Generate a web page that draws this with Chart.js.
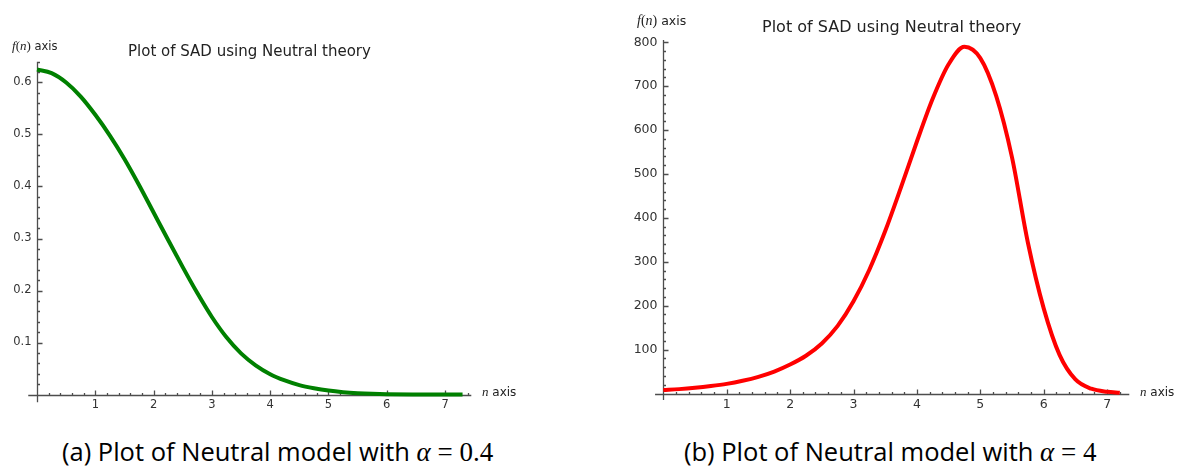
<!DOCTYPE html>
<html>
<head>
<meta charset="utf-8">
<script src="https://cdn.jsdelivr.net/npm/chart.js@4.4.0/dist/chart.umd.min.js"></script>
<style>
    body { margin: 0; width: 1178px; height: 466px; background: #fff; position: relative; overflow: hidden; font-family: "DejaVu Sans", sans-serif; }
    canvas { position: absolute; top: 0; }
    #chartA { left: 0; }
    #chartB { left: 600px; }
    .lbl { position: absolute; white-space: nowrap; color: #222; line-height: 1; }
    .s { font-family: "Liberation Serif", "DejaVu Serif", serif; }
    .i { font-style: italic; }
    .cap { position: absolute; white-space: nowrap; font-family: "Open Sans", sans-serif; font-size: 25.5px; color: #000; line-height: 1; }
    .cap .s { font-size: 27px; }
</style>
</head>
<body>
<canvas id="chartA" width="600" height="430"></canvas>
<canvas id="chartB" width="578" height="430"></canvas>

<div class="lbl" style="left:12px; top:39px; font-size:11.5px;"><span class="s" style="font-size:13px"><span class="i">f</span>(<span class="i">n</span>)</span> axis</div>
<div class="lbl" style="left:128px; top:44px; font-size:15px;">Plot of SAD using Neutral theory</div>
<div class="lbl" style="left:482px; top:385px; font-size:12px;"><span class="s i" style="font-size:13px">n</span> axis</div>

<div class="lbl" style="left:637px; top:14px; font-size:12.5px;"><span class="s" style="font-size:14px"><span class="i">f</span>(<span class="i">n</span>)</span> axis</div>
<div class="lbl" style="left:762px; top:19px; font-size:16px;">Plot of SAD using Neutral theory</div>
<div class="lbl" style="left:1140px; top:385px; font-size:12px;"><span class="s i" style="font-size:13px">n</span> axis</div>

<div class="cap" style="left:62px; top:439px;">(a) Plot of Neutral model with <span class="s"><span class="i">α</span> = 0.4</span></div>
<div class="cap" style="left:684px; top:439px;">(b) Plot of Neutral model with <span class="s"><span class="i">α</span> = 4</span></div>

<script>
// (a) alpha = 0.4
const nA = [0, 0.25, 0.5, 0.75, 1, 1.25, 1.5, 1.75, 2, 2.25, 2.5, 2.75, 3, 3.25, 3.5, 3.75, 4, 4.25, 4.5, 4.75, 5, 5.25, 5.5, 5.75, 6, 6.5, 7, 7.3];
const fA = [0.625, 0.618, 0.600, 0.573, 0.538, 0.498, 0.453, 0.403, 0.350, 0.297, 0.245, 0.195, 0.149, 0.110, 0.079, 0.056, 0.039, 0.027, 0.018, 0.012, 0.0075, 0.0045, 0.0026, 0.0014, 0.0007, 0.0002, 0.00005, 0];
const xTicksA = [1, 2, 3, 4, 5, 6, 7];
const yTicksA = [0.1, 0.2, 0.3, 0.4, 0.5, 0.6];

// (b) alpha = 4
const nB = [0, 0.25, 0.5, 0.75, 1, 1.25, 1.5, 1.75, 2, 2.25, 2.5, 2.75, 3, 3.25, 3.5, 3.75, 4, 4.25, 4.5, 4.75, 5, 5.25, 5.5, 5.75, 6, 6.25, 6.5, 6.75, 7, 7.2];
const fB = [8, 10, 13, 17, 22, 29, 38, 50, 66, 86, 114, 154, 210, 282, 370, 470, 574, 672, 750, 790, 764, 678, 538, 344, 194, 88, 32, 11, 4, 2];
const xTicksB = [1, 2, 3, 4, 5, 6, 7];
const yTicksB = [100, 200, 300, 400, 500, 600, 700, 800];

// sage style axes: lines crossing at the origin, ticks pointing inward
const sageAxes = {
    id: 'sageAxes',
    beforeDatasetsDraw(chart, args, opts) {
        const ctx = chart.ctx;
        const area = chart.chartArea;
        const x = chart.scales.x;
        const y = chart.scales.y;
        const x0 = Math.round(x.getPixelForValue(0)) + 0.5;
        const y0 = Math.round(y.getPixelForValue(0)) + 0.5;

        ctx.save();
        ctx.strokeStyle = opts.color;
        ctx.lineWidth = 1.3;
        ctx.beginPath();
        ctx.moveTo(area.left, y0);
        ctx.lineTo(area.right, y0);
        ctx.moveTo(x0, area.bottom);
        ctx.lineTo(x0, area.top);

        for (let v = opts.xMinor; v <= x.max + 1e-9; v += opts.xMinor) {
            const px = Math.round(x.getPixelForValue(v)) + 0.5;
            const major = Math.abs(v - Math.round(v)) < 1e-6;
            ctx.moveTo(px, y0);
            ctx.lineTo(px, y0 - (major ? 5 : 2.5));
        }
        for (let v = opts.yMinor; v <= y.max + 1e-9; v += opts.yMinor) {
            const py = Math.round(y.getPixelForValue(v)) + 0.5;
            const r = v / opts.yMajor;
            const major = Math.abs(r - Math.round(r)) < 1e-6;
            ctx.moveTo(x0, py);
            ctx.lineTo(x0 + (major ? 5 : 2.5), py);
        }
        ctx.stroke();

        // y tick labels, right aligned against the axis
        ctx.fillStyle = '#333';
        ctx.font = opts.fontSize + 'px "DejaVu Sans"';
        ctx.textAlign = 'right';
        ctx.textBaseline = 'middle';
        y.ticks.forEach(function (t) {
            ctx.fillText(String(t.value), x0 - 6, y.getPixelForValue(t.value));
        });
        ctx.restore();
    }
};

function buildChart(id, nVals, fVals, cfg) {
    const points = nVals.map(function (n, i) {
        return { x: n, y: fVals[i] };
    });

    return new Chart(document.getElementById(id), {
        type: 'line',
        data: {
            datasets: [{
                data: points,
                borderColor: cfg.color,
                borderWidth: 4,
                pointRadius: 0,
                cubicInterpolationMode: 'monotone',
                fill: false
            }]
        },
        options: {
            responsive: false,
            animation: false,
            events: [],
            layout: { padding: cfg.padding },
            plugins: {
                legend: { display: false },
                tooltip: { enabled: false },
                sageAxes: { color: '#4d4d4d', xMinor: cfg.xMinor, yMinor: cfg.yMinor, yMajor: cfg.yMajor, fontSize: cfg.tickSize }
            },
            scales: {
                x: {
                    type: 'linear',
                    axis: 'x',
                    min: cfg.xMin,
                    max: cfg.xMax,
                    position: { y: 0 },
                    grid: { display: false, drawTicks: false },
                    border: { display: false },
                    afterBuildTicks: function (scale) {
                        scale.ticks = cfg.xTicks.map(v => ({ value: v }));
                    },
                    ticks: {
                        font: { family: 'DejaVu Sans', size: cfg.tickSize },
                        color: '#333',
                        padding: 4,
                        maxRotation: 0,
                        autoSkip: false,
                        callback: v => String(v)
                    }
                },
                y: {
                    type: 'linear',
                    axis: 'y',
                    min: cfg.yMin,
                    max: cfg.yMax,
                    position: { x: 0 },
                    grid: { display: false, drawTicks: false },
                    border: { display: false },
                    afterBuildTicks: function (scale) {
                        scale.ticks = cfg.yTicks.map(v => ({ value: v }));
                    },
                    ticks: { display: false }
                }
            }
        },
        plugins: [sageAxes]
    });
}

buildChart('chartA', nA, fA, {
    color: '#008000',
    xTicks: xTicksA, yTicks: yTicksA,
    xMin: -0.15, xMax: 7.45, yMin: -0.015, yMax: 0.64,
    xMinor: 0.2, yMinor: 0.02, yMajor: 0.1,
    tickSize: 11.5,
    padding: { left: 28.26, right: 128.7, top: 61.7, bottom: 27.7 }
});

buildChart('chartB', nB, fB, {
    color: '#ff0000',
    xTicks: xTicksB, yTicks: yTicksB,
    xMin: -0.13, xMax: 7.35, yMin: -15, yMax: 805,
    xMinor: 0.2, yMinor: 20, yMajor: 100,
    tickSize: 12.5,
    padding: { left: 55.06, right: 48.7, top: 40.1, bottom: 29.9 }
});
</script>
</body>
</html>
